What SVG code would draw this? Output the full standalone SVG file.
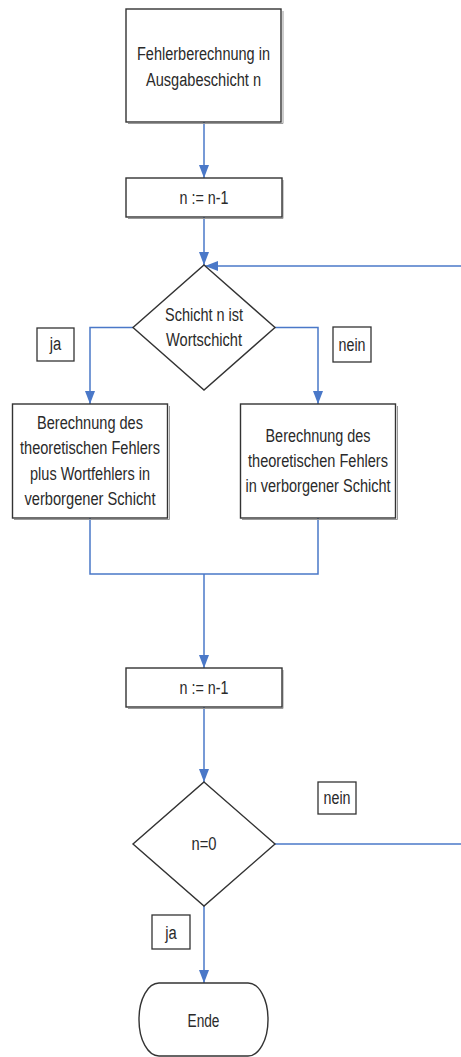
<svg xmlns="http://www.w3.org/2000/svg" width="461" height="1057" viewBox="0 0 461 1057">
  <style>
    .box { fill: #ffffff; stroke: #333333; stroke-width: 1.4; }
    .shadow { fill: none; stroke: #9a9a9a; stroke-width: 1; }
    .lbl { fill: #ffffff; stroke: #333333; stroke-width: 1.3; }
    .t { font-family: "Liberation Sans", Arial, sans-serif; font-size: 18px; fill: #2a2a2a; text-anchor: middle; }
    .c { fill: none; stroke: #4a78c8; stroke-width: 1.5; }
  </style>
  <defs>
    <marker id="arrow" markerUnits="userSpaceOnUse" markerWidth="14" markerHeight="10" refX="13" refY="5" orient="auto">
      <path d="M0,0 L13,5 L0,10 z" fill="#4a78c8"/>
    </marker>
  </defs>

  <rect width="461" height="1057" fill="#ffffff"/>

  <!-- connectors -->
  <g id="connectors">
    <path class="c" d="M204,122 V178" marker-end="url(#arrow)"/>
    <path class="c" d="M204,217 V265" marker-end="url(#arrow)"/>
    <path class="c" d="M461,266 H205" marker-end="url(#arrow)"/>
    <path class="c" d="M133,327.5 H90 V404" marker-end="url(#arrow)"/>
    <path class="c" d="M275,327.5 H318 V404" marker-end="url(#arrow)"/>
    <path class="c" d="M90,518 V574 H318 V518"/>
    <path class="c" d="M204,574 V668" marker-end="url(#arrow)"/>
    <path class="c" d="M204,707 V782" marker-end="url(#arrow)"/>
    <path class="c" d="M275,844 H461"/>
    <path class="c" d="M204,906 V983" marker-end="url(#arrow)"/>
  </g>

  <!-- start: error in output layer -->
  <g id="start">
    <path class="shadow" d="M283,11 V123.5 H128"/>
    <rect class="box" x="126" y="9" width="155" height="113"/>
    <text class="t" x="203.5" y="60" textLength="133" lengthAdjust="spacingAndGlyphs">Fehlerberechnung in</text>
    <text class="t" x="203.5" y="86" textLength="115" lengthAdjust="spacingAndGlyphs">Ausgabeschicht n</text>
  </g>

  <!-- first decrement -->
  <g id="decrement1">
    <path class="shadow" d="M283,180 V218.5 H128"/>
    <rect class="box" x="126" y="178" width="156" height="39"/>
    <text class="t" x="204" y="204" textLength="49" lengthAdjust="spacingAndGlyphs">n := n-1</text>
  </g>

  <!-- decision: word layer? -->
  <g id="decision-word">
    <polygon class="box" points="204,265 275,327.5 204,390 133,327.5"/>
    <text class="t" x="204" y="321" textLength="78" lengthAdjust="spacingAndGlyphs">Schicht n ist</text>
    <text class="t" x="204" y="346" textLength="76" lengthAdjust="spacingAndGlyphs">Wortschicht</text>
  </g>

  <g id="label-ja-1">
    <rect class="lbl" x="37" y="328" width="37" height="33"/>
    <text class="t" x="55.5" y="350" textLength="11.5" lengthAdjust="spacingAndGlyphs">ja</text>
  </g>

  <g id="label-nein-1">
    <rect class="lbl" x="333" y="327" width="38" height="35"/>
    <text class="t" x="352" y="351" textLength="27" lengthAdjust="spacingAndGlyphs">nein</text>
  </g>

  <!-- hidden layer with word error -->
  <g id="calc-word">
    <path class="shadow" d="M169.5,406 V519.5 H14"/>
    <rect class="box" x="12.5" y="404" width="155" height="114"/>
    <text class="t" x="90" y="429" textLength="106" lengthAdjust="spacingAndGlyphs">Berechnung des</text>
    <text class="t" x="90" y="454" textLength="140" lengthAdjust="spacingAndGlyphs">theoretischen Fehlers</text>
    <text class="t" x="90" y="479.5" textLength="120" lengthAdjust="spacingAndGlyphs">plus Wortfehlers in</text>
    <text class="t" x="90" y="505" textLength="131" lengthAdjust="spacingAndGlyphs">verborgener Schicht</text>
  </g>

  <!-- hidden layer without word error -->
  <g id="calc-hidden">
    <path class="shadow" d="M397.5,406 V519.5 H242"/>
    <rect class="box" x="240.5" y="404" width="155" height="114"/>
    <text class="t" x="318" y="442" textLength="105" lengthAdjust="spacingAndGlyphs">Berechnung des</text>
    <text class="t" x="318" y="467" textLength="140" lengthAdjust="spacingAndGlyphs">theoretischen Fehlers</text>
    <text class="t" x="318" y="492" textLength="145" lengthAdjust="spacingAndGlyphs">in verborgener Schicht</text>
  </g>

  <!-- second decrement -->
  <g id="decrement2">
    <path class="shadow" d="M283,670 V708.5 H128"/>
    <rect class="box" x="126" y="668" width="156" height="39"/>
    <text class="t" x="204" y="694" textLength="49" lengthAdjust="spacingAndGlyphs">n := n-1</text>
  </g>

  <!-- decision: n = 0? -->
  <g id="decision-zero">
    <polygon class="box" points="204,782 275,844 204,906 133,844"/>
    <text class="t" x="204" y="850" textLength="25" lengthAdjust="spacingAndGlyphs">n=0</text>
  </g>

  <g id="label-nein-2">
    <rect class="lbl" x="318" y="782" width="38" height="32"/>
    <text class="t" x="337" y="804" textLength="27" lengthAdjust="spacingAndGlyphs">nein</text>
  </g>

  <g id="label-ja-2">
    <rect class="lbl" x="152" y="915" width="38" height="34"/>
    <text class="t" x="171" y="939" textLength="11.5" lengthAdjust="spacingAndGlyphs">ja</text>
  </g>

  <!-- end terminal -->
  <g id="end">
    <rect class="box" x="139" y="983" width="129" height="73" rx="20" ry="36"/>
    <text class="t" x="203.5" y="1027" textLength="32" lengthAdjust="spacingAndGlyphs">Ende</text>
  </g>
</svg>
